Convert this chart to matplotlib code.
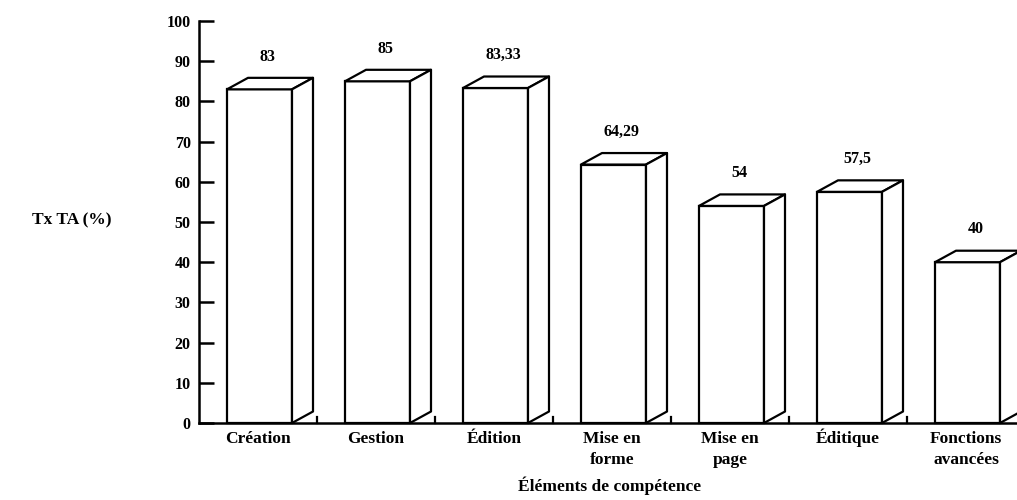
import matplotlib
matplotlib.use("Agg")
import matplotlib.pyplot as plt
from matplotlib.patches import Polygon
from matplotlib.transforms import blended_transform_factory

categories = ["Création", "Gestion", "Édition", "Mise en\nforme", "Mise en\npage",
              "Éditique", "Fonctions\navancées"]
values = [83, 85, 83.33, 64.29, 54, 57.5, 40]
value_labels = ["83", "85", "83,33", "64,29", "54", "57,5", "40"]
yticks = [0, 10, 20, 30, 40, 50, 60, 70, 80, 90, 100]

FONT = "Liberation Serif"
W, H = 1017, 500
fig = plt.figure(figsize=(W / 100, H / 100), dpi=100)
fig.patch.set_facecolor("white")

# axes in pixel geometry
x0, x1 = 199, 1025
y0, y1 = 423, 21
ax = fig.add_axes([x0 / W, (H - y0) / H, (x1 - x0) / W, (y0 - y1) / H])
ax.set_xlim(0, 7)
ax.set_ylim(0, 100)
ax.set_facecolor("white")

slot_px = (x1 - x0) / 7
bar_off = 28 / slot_px
bar_w = 65 / slot_px
dx = 21 / slot_px
dy = 11.5 / ((y0 - y1) / 100)

for i, v in enumerate(values):
    left = i + bar_off
    right = left + bar_w
    ax.bar(left, v, width=bar_w, align="edge", facecolor="white",
           edgecolor="black", linewidth=1.6, zorder=3, clip_on=False)
    top = Polygon([(left, v), (right, v), (right + dx, v + dy), (left + dx, v + dy)],
                  closed=True, facecolor="white", edgecolor="black", linewidth=1.6,
                  zorder=3, clip_on=False, joinstyle="round")
    side = Polygon([(right, 0), (right + dx, dy), (right + dx, v + dy), (right, v)],
                   closed=True, facecolor="white", edgecolor="black", linewidth=1.6,
                   zorder=3, clip_on=False, joinstyle="round")
    ax.add_patch(top)
    ax.add_patch(side)
    ax.text(left + (bar_w + dx) / 2 - 0.02, v + dy + 3.3, value_labels[i], ha="center",
            va="bottom", fontsize=11.5, fontweight="bold", family=FONT)

for s in ["top", "right"]:
    ax.spines[s].set_visible(False)
for s in ["left", "bottom"]:
    ax.spines[s].set_linewidth(1.8)
ax.spines["bottom"].set_zorder(5)

ax.set_yticks(yticks)
ax.set_yticklabels([str(t) for t in yticks], fontsize=11.5, fontweight="bold", family=FONT)
ax.tick_params(axis="y", direction="in", length=11, width=1.8, pad=6)

ax.set_xticks([])
trans = blended_transform_factory(ax.transData, ax.transAxes)
axh = y0 - y1
for i, c in enumerate(categories):
    for k, line in enumerate(c.split("\n")):
        ax.text(i + 0.5, -(20 + 21 * k) / axh, line, transform=trans, ha="center",
                va="baseline", fontsize=12.5, fontweight="bold", family=FONT)
# small boundary ticks on x axis
for b in range(1, 7):
    ax.plot([b, b], [0, 1.4], color="black", linewidth=1.6, clip_on=False, zorder=4)

fig.text(72 / W, 1 - 220 / H, "Tx TA (%)", ha="center", va="center",
         fontsize=12.5, fontweight="bold", family=FONT)
fig.text(610 / W, 1 - 486 / H, "Éléments de compétence", ha="center", va="center",
         fontsize=12.5, fontweight="bold", family=FONT)

fig.savefig("out.png", dpi=100, facecolor="white")
